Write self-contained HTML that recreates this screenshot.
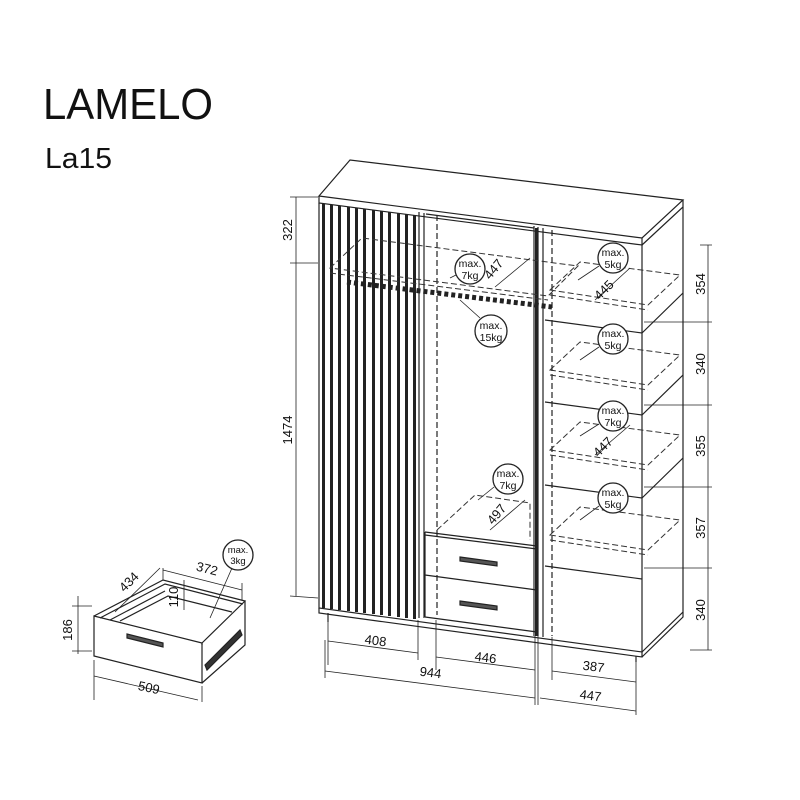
<!DOCTYPE html>
<html><head><meta charset="utf-8"><style>
html,body{margin:0;padding:0;background:#fff;width:800px;height:800px;overflow:hidden}
svg{display:block}
text{font-family:"Liberation Sans","DejaVu Sans",sans-serif;fill:#111}
</style></head><body>
<svg width="800" height="800" viewBox="0 0 800 800" xmlns="http://www.w3.org/2000/svg">
<rect width="800" height="800" fill="#fff"/>
<text x="43" y="119" font-size="44" textLength="170" lengthAdjust="spacingAndGlyphs">LAMELO</text>
<text x="45" y="168" font-size="29" textLength="67" lengthAdjust="spacingAndGlyphs">La15</text>

<g stroke="#222" fill="none" stroke-width="1.2">
<!-- top -->
<path d="M319,196 L350,160 L683,200 L642,238 Z" fill="#fff"/>
<path d="M319,196 L319,203 L642,245 L642,238"/>
<path d="M642,245 L683,207 L683,200"/>
<!-- front body outline -->
<path d="M319,203 L319,608 L642,652 L642,245"/>
<!-- right side -->
<path d="M642,652 L683,612 L683,207"/>
<!-- plinth -->
<path d="M319,608 L319,613 L642,657 L642,652 M642,657 L683,617 L683,612"/>
<path d="M328,613 L328,622 M636,656 L636,662"/>
<!-- left door -->
<path d="M419,212 L419,618 M424,213 L424,618"/>
<!-- middle dashed inner -->
<path d="M437,215 L437,615" stroke-dasharray="6,3"/>
<path d="M426,214 L534,228"/>
<!-- divider -->
<path d="M534,226 L534,636 M538,227 L538,636 M543,228 L543,637"/>
<path d="M552,230 L552,636" stroke-dasharray="6,3"/>
<!-- right section divider lines -->
<path d="M545,320 L642,333 L683,293 M545,402 L642,415 L683,375 M545,485 L642,498 L683,458 M545,566 L642,579"/>
<!-- drawers -->
<path d="M425,532 L537,546 M425,535 L537,549 M425,575 L537,590 M425,617 L537,632 M425,532 L425,617"/>
<path d="M460,557 L497,562 L497,566 L460,561 Z M460,601 L497,606 L497,610 L460,605 Z" fill="#555"/>
</g>
<!-- slats -->
<g fill="#222">
<rect x="322" y="204" width="3" height="404"/>
<rect x="330" y="205" width="3" height="404"/>
<rect x="338" y="206" width="3" height="404"/>
<rect x="347" y="207" width="3" height="404"/>
<rect x="355" y="208" width="3" height="404"/>
<rect x="363" y="209" width="3" height="404"/>
<rect x="372" y="210" width="3" height="404"/>
<rect x="380" y="211" width="3" height="404"/>
<rect x="388" y="212" width="3" height="404"/>
<rect x="397" y="213" width="3" height="404"/>
<rect x="405" y="214" width="3" height="404"/>
<rect x="413" y="215" width="3" height="404"/>
<rect x="535" y="228" width="3" height="408"/>
</g>
<!-- rail -->
<path d="M347,282 L552,307" stroke="#222" stroke-width="5" stroke-dasharray="4,3"/>
<!-- dashed shelves -->
<g stroke="#333" fill="none" stroke-width="1" stroke-dasharray="6,3">
<path d="M330,268 L362,238 L578,266 L548,296 Z"/>
<path d="M330,273 L548,300"/>
<path d="M550,290 L580,262 L680,275 L648,305 Z M550,295 L648,310"/>
<path d="M550,370 L580,342 L680,355 L648,385 Z M550,375 L648,390"/>
<path d="M550,450 L580,422 L680,435 L648,465 Z M550,455 L648,470"/>
<path d="M550,535 L580,507 L680,520 L648,550 Z M550,540 L648,555"/>
<path d="M437,530 L475,495 L530,503 L530,540"/>
</g>
<!-- circles -->
<g stroke="#222" fill="#fff" stroke-width="1.3">
<circle cx="470" cy="269" r="15"/><circle cx="613" cy="258" r="15"/>
<circle cx="491" cy="331" r="16"/><circle cx="613" cy="339" r="15"/>
<circle cx="613" cy="416" r="15"/><circle cx="508" cy="479" r="15"/>
<circle cx="613" cy="498" r="15"/><circle cx="238" cy="555" r="15"/>
</g>
<g stroke="#222" stroke-width="0.8">
<path d="M456,275 L450,278 M599,266 L578,280 M480,318 L460,300 M599,347 L580,360 M599,424 L580,436 M494,487 L478,500 M599,506 L580,520 M232,568 L210,618"/>
</g>
<g font-size="10.5" text-anchor="middle">
<text x="470" y="267">max.</text><text x="470" y="279">7kg</text>
<text x="613" y="256">max.</text><text x="613" y="268">5kg</text>
<text x="491" y="329">max.</text><text x="491" y="341">15kg</text>
<text x="613" y="337">max.</text><text x="613" y="349">5kg</text>
<text x="613" y="414">max.</text><text x="613" y="426">7kg</text>
<text x="508" y="477">max.</text><text x="508" y="489">7kg</text>
<text x="613" y="496">max.</text><text x="613" y="508">5kg</text>
<text x="238" y="553" font-size="9.5">max.</text><text x="238" y="564" font-size="9.5">3kg</text>
</g>
<!-- inner dims -->
<g stroke="#222" stroke-width="0.8"><path d="M495,287 L530,258 M595,300 L630,268 M595,455 L630,425 M490,530 L525,500"/></g>
<g font-size="13" text-anchor="middle">
<text transform="translate(497,272) rotate(-50)">447</text>
<text transform="translate(607,293) rotate(-45)">445</text>
<text transform="translate(606,450) rotate(-45)">447</text>
<text transform="translate(500,517) rotate(-50)">497</text>
</g>
<!-- left dims -->
<g stroke="#222" stroke-width="0.8" fill="none">
<path d="M296,197 L296,596 M290,197 L318,197 M290,263 L318,263 M290,596 L318,598"/>
<path d="M708,245 L708,650 M700,245 L712,245 M644,322 L712,322 M644,405 L712,405 M644,487 L712,487 M644,568 L712,568 M690,650 L712,650"/>
<path d="M328,620 L328,665 M418,620 L418,660 M436,620 L436,670 M535,636 L535,705 M538,636 L538,705 M552,637 L552,680 M636,662 L636,715 M325,640 L325,678"/>
<path d="M328,641 L418,653 M436,657 L535,670 M325,671 L535,698 M552,671 L636,682 M540,698 L636,711"/>
</g>
<g font-size="13" text-anchor="middle">
<text transform="translate(292,230) rotate(-90)">322</text>
<text transform="translate(292,430) rotate(-90)">1474</text>
<text transform="translate(705,284) rotate(-90)">354</text>
<text transform="translate(705,364) rotate(-90)">340</text>
<text transform="translate(705,446) rotate(-90)">355</text>
<text transform="translate(705,528) rotate(-90)">357</text>
<text transform="translate(705,610) rotate(-90)">340</text>
<text transform="translate(375,645) rotate(7)">408</text>
<text transform="translate(485,662) rotate(7)">446</text>
<text transform="translate(430,677) rotate(7)">944</text>
<text transform="translate(593,671) rotate(7)">387</text>
<text transform="translate(590,700) rotate(7)">447</text>
</g>
<!-- drawer -->
<g stroke="#222" fill="none" stroke-width="1.2">
<path d="M94,616 L202,643 L202,683 L94,656 Z" fill="#fff"/>
<path d="M94,616 L163,580 L245,601 L202,643"/>
<path d="M100,618 L165,584 L243,604 M110,620 L165,591 M202,643 L202,645 M245,601 L245,645 L202,683"/>
<path d="M120,621 L168,596 L232,612"/>
<path d="M127,634 L163,643 L163,647 L127,638 Z" fill="#555"/>
<path d="M205,665 L240,630 L242,635 L207,670 Z" fill="#333"/>
</g>
<g stroke="#222" stroke-width="0.8" fill="none">
<path d="M78,596 L78,654 M72,606 L92,606 M72,651 L92,651 M94,660 L94,700 M202,686 L202,702 M94,676 L198,700"/>
<path d="M115,612 L160,568 M163,568 L163,580 M163,570 L242,590 M242,583 L242,600 M184,580 L184,610"/>
</g>
<g font-size="13" text-anchor="middle">
<text transform="translate(72,630) rotate(-90)">186</text>
<text transform="translate(148,692) rotate(12)">509</text>
<text transform="translate(132,585) rotate(-45)">434</text>
<text transform="translate(206,573) rotate(14)">372</text>
<text transform="translate(178,597) rotate(-90)">110</text>
</g>
</svg>
</body></html>
